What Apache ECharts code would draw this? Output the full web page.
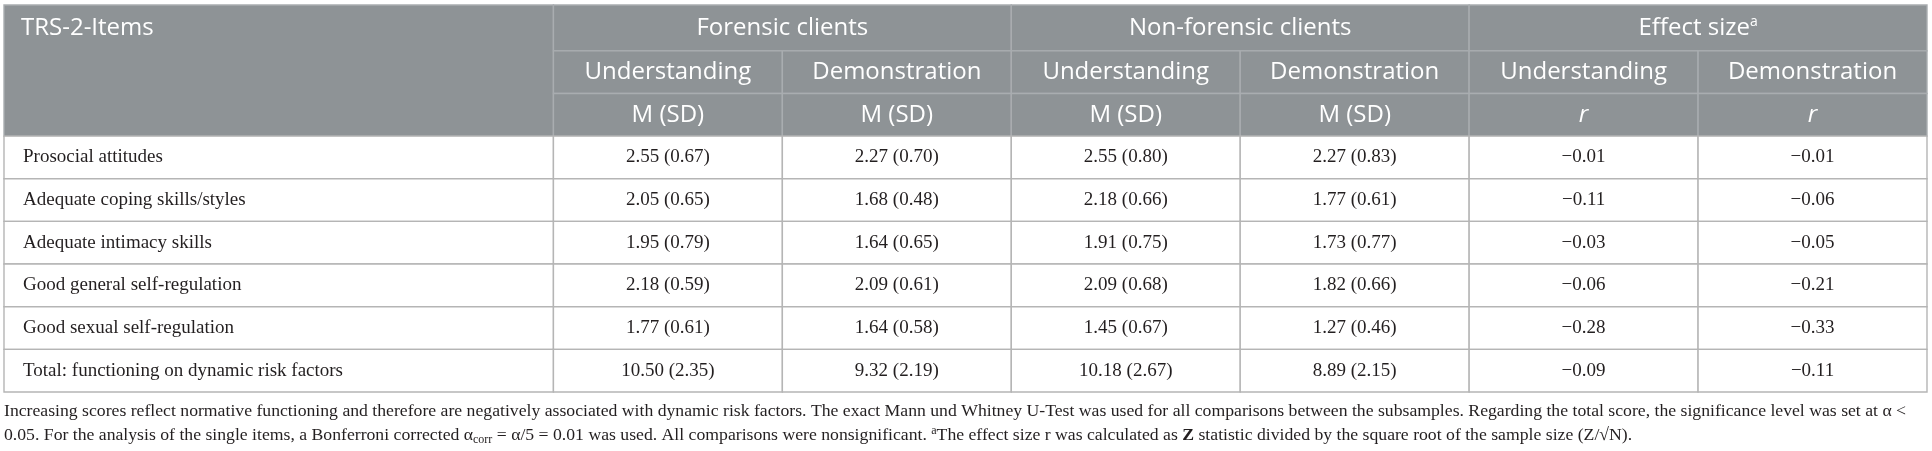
<!DOCTYPE html>
<html><head><meta charset="utf-8">
<script src="https://cdn.jsdelivr.net/npm/echarts/dist/echarts.min.js"></script>
<style>html,body{margin:0;padding:0;background:#fff}#c{width:1932px;height:451px}</style>
</head><body><div id="c"></div>
<script>
// ---- data ----
const items = ['Prosocial attitudes', 'Adequate coping skills/styles', 'Adequate intimacy skills',
  'Good general self-regulation', 'Good sexual self-regulation', 'Total: functioning on dynamic risk factors'];
const groups = ['Forensic clients', 'Non-forensic clients', 'Effect size'];
const subHeads = ['Understanding', 'Demonstration'];
const statHeads = ['M (SD)', 'M (SD)', 'r'];
const cornerHead = 'TRS-2-Items';
const forensicUndM = [2.55, 2.05, 1.95, 2.18, 1.77, 10.50];
const forensicUndSD = [0.67, 0.65, 0.79, 0.59, 0.61, 2.35];
const forensicDemM = [2.27, 1.68, 1.64, 2.09, 1.64, 9.32];
const forensicDemSD = [0.70, 0.48, 0.65, 0.61, 0.58, 2.19];
const nonUndM = [2.55, 2.18, 1.91, 2.09, 1.45, 10.18];
const nonUndSD = [0.80, 0.66, 0.75, 0.68, 0.67, 2.67];
const nonDemM = [2.27, 1.77, 1.73, 1.82, 1.27, 8.89];
const nonDemSD = [0.83, 0.61, 0.77, 0.66, 0.46, 2.15];
const effUnd = [-0.01, -0.11, -0.03, -0.06, -0.28, -0.09];
const effDem = [-0.01, -0.06, -0.05, -0.21, -0.33, -0.11];
const footLine1 = 'Increasing scores reflect normative functioning and therefore are negatively associated with dynamic risk factors. The exact Mann und Whitney U-Test was used for all comparisons between the subsamples. Regarding the total score, the significance level was set at α <';
const footLine2 = '{n|0.05. For the analysis of the single items, a Bonferroni corrected α}{sub|corr}{n| = α/5 = 0.01 was used. All comparisons were nonsignificant. }{sup|a}{n|The effect size r was calculated as }{b|Z}{n| statistic divided by the square root of the sample size (Z/√N).}';

// ---- layout (relative units) ----
const colUnits = [2.4, 1, 1, 1, 1, 1, 1];
const rowUnits = [1.075, 1, 1, 1, 1, 1, 1, 1, 1];
const edges = u => u.reduce((a, w) => (a.push(a[a.length - 1] + w), a), [0]);
const colEdges = edges(colUnits), rowEdges = edges(rowUnits);

const HEADER_BG = '#8e9396', HEADER_LINE = '#a9adb0', BODY_LINE = '#b5b5b5', INK = '#231f20';
const SANS = '"Open Sans", Lato, sans-serif', SERIF = '"Liberation Serif", "DejaVu Serif", serif';
const HFS = 24, BFS = 19, FFS = 17.7, HW = 400;

const fmt2 = v => (v < 0 ? '\u2212' : '') + Math.abs(v).toFixed(2);
const msd = (m, s) => m.map((v, i) => `${v.toFixed(2)} (${s[i].toFixed(2)})`);
const valueCols = [msd(forensicUndM, forensicUndSD), msd(forensicDemM, forensicDemSD),
  msd(nonUndM, nonUndSD), msd(nonDemM, nonDemSD), effUnd.map(fmt2), effDem.map(fmt2)];

const cells = [];
const add = (c0, c1, r0, r1, text, kind) => cells.push({ c0, c1, r0, r1, text, kind });
add(0, 1, 0, 3, cornerHead, 'corner');
groups.forEach((g, i) => add(1 + 2 * i, 3 + 2 * i, 0, 1, g, i === 2 ? 'groupSup' : 'group'));
groups.forEach((g, i) => subHeads.forEach((s, j) => add(1 + 2 * i + j, 2 + 2 * i + j, 1, 2, s, 'sub')));
groups.forEach((g, i) => subHeads.forEach((s, j) => add(1 + 2 * i + j, 2 + 2 * i + j, 2, 3, statHeads[i], i === 2 ? 'italic' : 'sub')));
items.forEach((name, r) => {
  add(0, 1, 3 + r, 4 + r, name, 'name');
  valueCols.forEach((vals, k) => add(1 + k, 2 + k, 3 + r, 4 + r, vals[r], 'val'));
});

const footFont = (size, weight) => `${weight || 'normal'} ${size}px "Liberation Serif", serif`;

const chart = echarts.init(document.getElementById('c'));
chart.setOption({
  animation: false,
  grid: { left: 4, right: 5, top: 5, bottom: 59 },
  xAxis: { type: 'value', min: 0, max: colEdges[colEdges.length - 1], show: false },
  yAxis: { type: 'value', min: 0, max: rowEdges[rowEdges.length - 1], inverse: true, show: false },
  series: [{
    type: 'custom',
    encode: { x: [0, 1], y: [2, 3] },
    data: cells.map(c => [colEdges[c.c0], colEdges[c.c1], rowEdges[c.r0], rowEdges[c.r1]]),
    renderItem(params, api) {
      const c = cells[params.dataIndex];
      const p0 = api.coord([api.value(0), api.value(2)]);
      const p1 = api.coord([api.value(1), api.value(3)]);
      const x = p0[0], y = p0[1], w = p1[0] - p0[0], h = p1[1] - p0[1];
      const header = c.r0 < 3;
      const rect = { type: 'rect', shape: { x, y, width: w, height: h },
        style: { fill: header ? HEADER_BG : '#fff', stroke: header ? HEADER_LINE : BODY_LINE, lineWidth: 1.4 } };
      let t;
      if (c.kind === 'corner') {
        const yMid = (p0[1] + api.coord([0, rowEdges[1]])[1]) / 2;
        t = { x: x + 17, y: yMid, style: { text: c.text, fill: '#fff', fontFamily: SANS, fontSize: HFS, fontWeight: HW, align: 'left', verticalAlign: 'middle' } };
      } else if (c.kind === 'name') {
        t = { x: x + 19, y: y + h / 2, style: { text: c.text, fill: INK, fontFamily: SERIF, fontSize: BFS, align: 'left', verticalAlign: 'middle' } };
      } else if (c.kind === 'val') {
        t = { x: x + w / 2, y: y + h / 2, style: { text: c.text, fill: INK, fontFamily: SERIF, fontSize: BFS, align: 'center', verticalAlign: 'middle' } };
      } else if (c.kind === 'groupSup') {
        t = { x: x + w / 2, y: y + h / 2, style: { text: '{t|' + c.text + '}{s|a}', fill: '#fff', align: 'center', verticalAlign: 'middle',
          rich: { t: { fontFamily: SANS, fontSize: HFS, fontWeight: HW, fill: '#fff' },
                  s: { fontFamily: SANS, fontSize: 14, fontWeight: HW, fill: '#fff', padding: [0, 0, 12, 0] } } } };
      } else {
        t = { x: x + w / 2, y: y + h / 2, style: { text: c.text, fill: '#fff', fontFamily: SANS, fontSize: HFS, fontWeight: HW,
          fontStyle: c.kind === 'italic' ? 'italic' : 'normal', align: 'center', verticalAlign: 'middle' } };
      }
      t.type = 'text';
      return { type: 'group', children: [rect, t] };
    }
  }],
  graphic: [
    { type: 'text', x: 4, y: 411, silent: true,
      style: { text: footLine1, fill: INK, font: footFont(FFS), verticalAlign: 'middle' } },
    { type: 'text', x: 4, y: 435, silent: true,
      style: { text: footLine2, fill: INK, font: footFont(FFS), verticalAlign: 'middle',
        rich: { n: { font: footFont(FFS), fill: INK },
                sub: { font: footFont(12), fill: INK, padding: [9, 0, 0, 0] },
                sup: { font: footFont(12), fill: INK, padding: [0, 0, 9, 0] },
                b: { font: footFont(FFS, 'bold'), fill: INK } } } }
  ]
});
</script></body></html>
